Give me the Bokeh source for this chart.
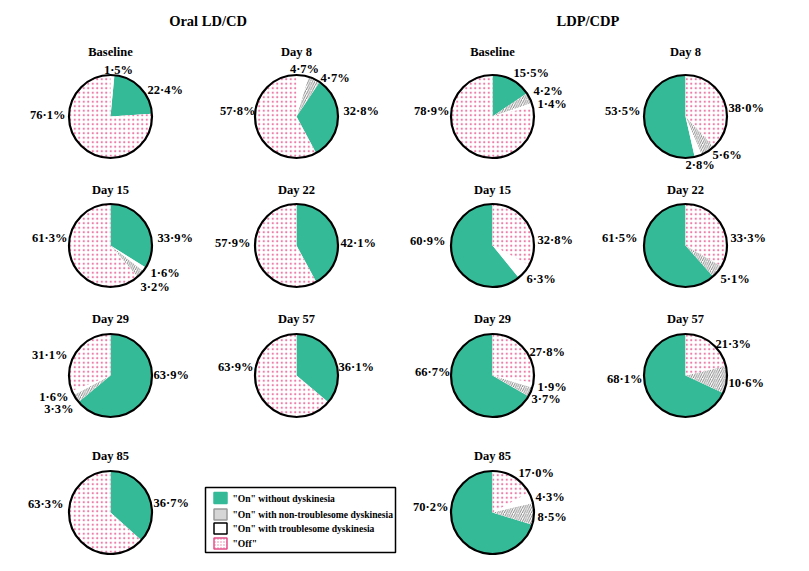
import math
from bokeh.plotting import figure
from bokeh.models import Range1d, ColumnDataSource
from bokeh.core.properties import value
from bokeh.embed import file_html
from bokeh.resources import INLINE

# ---------------- data ----------------
group_titles = ["Oral LD/CD", "LDP/CDP"]
days = ["Baseline", "Day 8", "Day 15", "Day 22", "Day 29", "Day 57", "Day 85"]
categories = ['"On" without dyskinesia', '"On" with non-troublesome dyskinesia',
              '"On" with troublesome dyskinesia', '"Off"']

oral_on_without = [22.4, 32.8, 33.9, 42.1, 63.9, 36.1, 36.7]
oral_on_nontroublesome = [0.0, 4.7, 3.2, 0.0, 3.3, 0.0, 0.0]
oral_on_troublesome = [1.5, 4.7, 1.6, 0.0, 1.6, 0.0, 0.0]
oral_off = [76.1, 57.8, 61.3, 57.9, 31.1, 63.9, 63.3]

ldp_on_without = [15.5, 53.5, 60.9, 61.5, 66.7, 68.1, 70.2]
ldp_on_nontroublesome = [4.2, 5.6, 0.0, 5.1, 3.7, 10.6, 8.5]
ldp_on_troublesome = [1.4, 2.8, 6.3, 0.0, 1.9, 0.0, 4.3]
ldp_off = [78.9, 38.0, 32.8, 33.3, 27.8, 21.3, 17.0]

# slice order clockwise from 12 o'clock (G=without, N=non-troublesome, T=troublesome, F=off)
oral_order = ["TNGF", "TNGF", "GTNF", "GNTF", "GNTF", "GNTF", "GNTF"]
ldp_order = ["GNTF", "FNTG", "FTNG", "FNTG", "FTNG", "FNTG", "FTNG"]

# ---------------- layout ----------------
W, H = 793, 555
def fx(X):
    return X
def fy(Y):
    return H - Y

R = 41.5
col_x = [110, 296, 492, 685]
row_y = [116, 245, 375, 512]
title_y = [51, 189.5, 318, 455]
# (group, day index) -> (col, row)
pie_cells = {0: [(0, 0), (1, 0), (0, 1), (1, 1), (0, 2), (1, 2), (0, 3)],
             1: [(2, 0), (3, 0), (2, 1), (3, 1), (2, 2), (3, 2), (2, 3)]}

# label anchors relative to pie centre (dx, dy down-positive, align)
label_pos = {
    (0, 0): {"T": (8, -47, "center"), "G": (37, -27, "left"), "F": (-45, -2, "right")},
    (0, 1): {"T": (8, -48, "center"), "N": (24, -39, "left"), "G": (47, -6, "left"), "F": (-41, -6, "right")},
    (0, 2): {"G": (47, -8, "left"), "T": (40, 27, "left"), "N": (30, 41, "left"), "F": (-43, -8, "right")},
    (0, 3): {"G": (44, -3, "left"), "F": (-46, -3, "right")},
    (0, 4): {"G": (43, -1, "left"), "N": (-37, 33, "right"), "T": (-42, 21, "right"), "F": (-43, -21, "right")},
    (0, 5): {"G": (42, -9, "left"), "F": (-43, -9, "right")},
    (0, 6): {"G": (43, -10, "left"), "F": (-47, -9, "right")},
    (1, 0): {"G": (21, -44, "left"), "N": (41, -25.5, "left"), "T": (45, -13, "left"), "F": (-43, -6, "right")},
    (1, 1): {"F": (43, -9, "left"), "N": (27, 38.5, "left"), "T": (0, 48, "left"), "G": (-45, -6, "right")},
    (1, 2): {"F": (45, -6, "left"), "T": (34, 33, "left"), "G": (-47, -5, "right")},
    (1, 3): {"F": (45, -8, "left"), "N": (35, 33, "left"), "G": (-48, -8, "right")},
    (1, 4): {"F": (37, -24, "left"), "T": (45, 11, "left"), "N": (39, 23, "left"), "G": (-42, -4, "right")},
    (1, 5): {"F": (30, -32, "left"), "N": (43, 7, "left"), "G": (-43, 3, "right")},
    (1, 6): {"F": (26, -40, "left"), "T": (43, -16, "left"), "N": (45, 4, "left"), "G": (-44, -6, "right")},
}

GREEN = "#35ba98"
PINK = "#e4508a"
HATCH_GREY = "#666666"
FONT = value("Liberation Serif")

p = figure(width=W, height=H, output_backend="svg", toolbar_location=None,
           x_range=Range1d(0, W), y_range=Range1d(0, H),
           x_axis_location=None, y_axis_location=None, min_border=0)
p.grid.visible = False
p.outline_line_color = None
p.background_fill_color = "white"

wedges = {c: dict(x=[], y=[], s=[], e=[]) for c in "GNTF"}
labels = {a: dict(x=[], y=[], t=[]) for a in ("left", "right", "center")}
circles = dict(x=[], y=[])
titles = dict(x=[], y=[], t=[])

series = [
    (oral_on_without, oral_on_nontroublesome, oral_on_troublesome, oral_off, oral_order),
    (ldp_on_without, ldp_on_nontroublesome, ldp_on_troublesome, ldp_off, ldp_order),
]

def fmt(v):
    return ("%.1f" % v).replace(".", "\u00b7") + "%"

for g, (gv, nv, tv, ov, order) in enumerate(series):
    for d in range(len(days)):
        col, row = pie_cells[g][d]
        cx, cy = col_x[col], row_y[row]
        vals = {"G": gv[d], "N": nv[d], "T": tv[d], "F": ov[d]}
        total = sum(vals.values())
        cum = 0.0
        for c in order[d]:
            v = vals[c]
            if v <= 0:
                continue
            s = cum / total
            cum += v
            e = cum / total
            wedges[c]["x"].append(fx(cx))
            wedges[c]["y"].append(fy(cy))
            wedges[c]["s"].append(math.pi / 2 - e * 2 * math.pi)
            wedges[c]["e"].append(math.pi / 2 - s * 2 * math.pi)
            dx, dy, al = label_pos[(g, d)][c]
            labels[al]["x"].append(fx(cx + dx))
            labels[al]["y"].append(fy(cy + dy))
            labels[al]["t"].append(fmt(v))
        circles["x"].append(fx(cx))
        circles["y"].append(fy(cy))
        titles["x"].append(fx(cx))
        titles["y"].append(fy(title_y[row]))
        titles["t"].append(days[d])

styles = {
    "G": dict(fill_color=GREEN),
    "N": dict(fill_color="white", hatch_pattern="/", hatch_color=HATCH_GREY,
              hatch_scale=4.5, hatch_weight=0.8),
    "T": dict(fill_color="white"),
    "F": dict(fill_color="white", hatch_pattern=".", hatch_color=PINK,
              hatch_scale=4.5, hatch_weight=0.6, hatch_alpha=0.75),
}
for c in "GNTF":
    src = ColumnDataSource(wedges[c])
    p.wedge(x="x", y="y", radius=R, start_angle="s", end_angle="e",
            source=src, line_color=None, **styles[c])

p.circle(x="x", y="y", radius=R, source=ColumnDataSource(circles),
         fill_color=None, line_color="black", line_width=2.2)

for al, d in labels.items():
    if d["x"]:
        p.text(x="x", y="y", text="t", source=ColumnDataSource(d),
               text_align=al, text_baseline="middle", text_font=FONT,
               text_font_style="bold", text_font_size="12.5px", text_color="black")

p.text(x="x", y="y", text="t", source=ColumnDataSource(titles),
       text_align="center", text_baseline="middle", text_font=FONT,
       text_font_style="bold", text_font_size="12.5px", text_color="black")

p.text(x=[fx(207.5), fx(587.5)], y=[fy(20), fy(20)], text=group_titles,
       text_align="center", text_baseline="middle", text_font=FONT,
       text_font_style="bold", text_font_size="14.5px", text_color="black")

# ---------------- legend ----------------
p.quad(left=fx(205), right=fx(395), top=fy(487), bottom=fy(552),
       fill_color="white", line_color="black", line_width=1.5)
leg_y = [497.5, 514, 528, 543]
leg_styles = [
    dict(fill_color=GREEN, line_color=GREEN),
    dict(fill_color="#d6d6d6", line_color="#9a9a9a"),
    dict(fill_color="white", line_color="black"),
    dict(fill_color="white", line_color=PINK, hatch_pattern=".", hatch_color=PINK,
         hatch_scale=3, hatch_weight=0.6, hatch_alpha=0.75),
]
for i, cat in enumerate(categories):
    ly = leg_y[i]
    p.quad(left=fx(213.5), right=fx(226.5), top=fy(ly - 5.5), bottom=fy(ly + 5.5),
           line_width=1.5, **leg_styles[i])
p.text(x=[fx(232)] * 4, y=[fy(v) for v in leg_y], text=categories,
       text_align="left", text_baseline="middle", text_font=FONT,
       text_font_style="bold", text_font_size="9.6px", text_color="black")

open("out.html", "w").write(file_html(p, INLINE))
